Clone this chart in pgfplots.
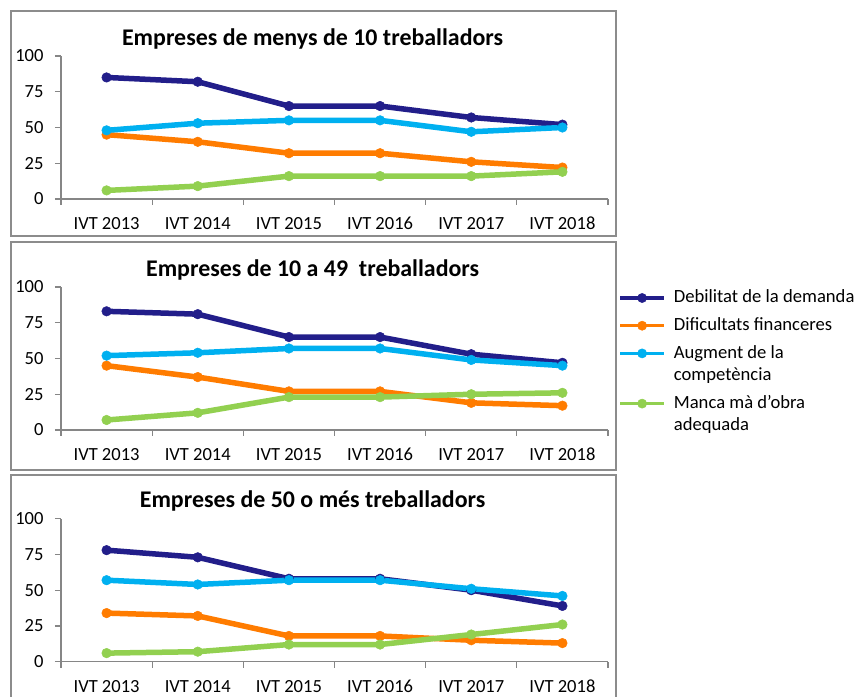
\documentclass[border=0pt]{standalone}
\usepackage{pgfplots}
\usepackage{pgfplotstable}
\pgfplotsset{compat=1.18}
\usepackage{fontspec}
\setmainfont{Carlito}
\definecolor{cNavy}{RGB}{34,30,138}
\definecolor{cOrange}{RGB}{255,124,0}
\definecolor{cLBlue}{RGB}{0,176,240}
\definecolor{cGreen}{RGB}{146,208,80}
\definecolor{cAxis}{RGB}{134,134,134}
\definecolor{cBorder}{RGB}{140,140,140}

\pgfplotstableread{
x D F A M
0 85 45 48 6
1 82 40 53 9
2 65 32 55 16
3 65 32 55 16
4 57 26 47 16
5 52 22 50 19
}\tabA
\pgfplotstableread{
x D F A M
0 83 45 52 7
1 81 37 54 12
2 65 27 57 23
3 65 27 57 23
4 53 19 49 25
5 47 17 45 26
}\tabB
\pgfplotstableread{
x D F A M
0 78 34 57 6
1 73 32 54 7
2 58 18 57 12
3 58 18 57 12
4 50 15 51 19
5 39 13 46 26
}\tabC

\pgfplotsset{
  panel/.style={
    scale only axis, width=547bp, height=143bp,
    xmin=-0.5, xmax=5.5, ymin=0, ymax=100,
    axis x line=bottom, axis y line=left,
    axis line style={cAxis, line width=1.3bp, -},
    xtick={0,1,2,3,4,5},
    xticklabels={IVT 2013,IVT 2014,IVT 2015,IVT 2016,IVT 2017,IVT 2018},
    minor xtick={-0.5,0.5,1.5,2.5,3.5,4.5,5.5},
    major x tick style={draw=none},
    ytick={0,25,50,75,100},
    tick align=outside,
    major tick length=6bp, minor tick length=6bp,
    every tick/.style={cAxis, line width=1.3bp},
    tick label style={font=\fontsize{18.6}{22}\selectfont, text=black},
    /pgf/number format/assume math mode=true,
    yticklabel style={xshift=-8bp},
    xticklabel style={text height=13bp, text depth=4bp, yshift=-8bp},
    title style={at={(axis description cs:0.46,1.08)}, anchor=center,
      font=\bfseries\fontsize{24}{28}\selectfont},
    clip=false,
  },
  ser/.style={line width=5.5bp, mark=*, mark size=4.8bp, mark options={solid, line width=0.5bp}, line join=round},
  legend image code/.code={\path[draw=none, fill=none] (0bp,-12.7bp) rectangle (44bp,15bp);
     \draw[mark repeat=2, mark phase=2, #1, line width=3.5bp, mark size=4.6bp, yshift=4.7bp]
     plot coordinates {(0bp,0bp) (22bp,0bp) (44bp,0bp)};},
  contline/.style={legend image code/.code={\path[draw=none, fill=none] (0bp,-12.7bp) rectangle (44bp,9.8bp);}},
}

\begin{document}
\begin{tikzpicture}
\useasboundingbox (0,0) rectangle (858bp,697bp);
\fill[white] (0,0) rectangle (858bp,697bp);
% panel borders
\draw[cBorder, line width=2bp] (11bp,460.5bp) rectangle (616bp,685.5bp);
\draw[cBorder, line width=2bp] (11bp,227bp) rectangle (616bp,455bp);
\draw[cBorder, line width=2bp] (11bp,-10bp) rectangle (616bp,222bp);

\begin{axis}[panel, at={(61bp,498bp)}, anchor=south west,
  title={Empreses de menys de 10 treballadors}]
\addplot[ser, color=cNavy] table[x=x,y=D]{\tabA};
\addplot[ser, color=cOrange] table[x=x,y=F]{\tabA};
\addplot[ser, color=cLBlue] table[x=x,y=A]{\tabA};
\addplot[ser, color=cGreen] table[x=x,y=M]{\tabA};
\end{axis}

\begin{axis}[panel, at={(61bp,267bp)}, anchor=south west,
  title={Empreses de 10 a 49\ \ treballadors},
  legend cell align=left,
  legend style={draw=none, fill=none, at={(axis description cs:1.019,0.995)}, anchor=north west,
    font=\fontsize{18.7}{22}\selectfont, row sep=0bp, column sep=6bp, inner sep=0pt, outer sep=0pt,
    cells={anchor=base west}, nodes={inner ysep=0pt}}]
\addplot[ser, color=cNavy] table[x=x,y=D]{\tabB};
\addlegendentry{\smash{Debilitat de la demanda}}
\addplot[ser, color=cOrange] table[x=x,y=F]{\tabB};
\addlegendentry{\smash{Dificultats financeres}}
\addplot[ser, color=cLBlue] table[x=x,y=A]{\tabB};
\addlegendentry{\smash{Augment de la}}
\addlegendimage{contline}
\addlegendentry{\smash{competència}}
\addplot[ser, color=cGreen] table[x=x,y=M]{\tabB};
\addlegendentry{\smash{Manca mà d’obra}}
\addlegendimage{contline}
\addlegendentry{\smash{adequada}}
\end{axis}

\begin{axis}[panel, at={(61bp,35.3bp)}, anchor=south west,
  title={Empreses de 50 o més treballadors}]
\addplot[ser, color=cNavy] table[x=x,y=D]{\tabC};
\addplot[ser, color=cOrange] table[x=x,y=F]{\tabC};
\addplot[ser, color=cLBlue] table[x=x,y=A]{\tabC};
\addplot[ser, color=cGreen] table[x=x,y=M]{\tabC};
\end{axis}
\end{tikzpicture}
\end{document}
